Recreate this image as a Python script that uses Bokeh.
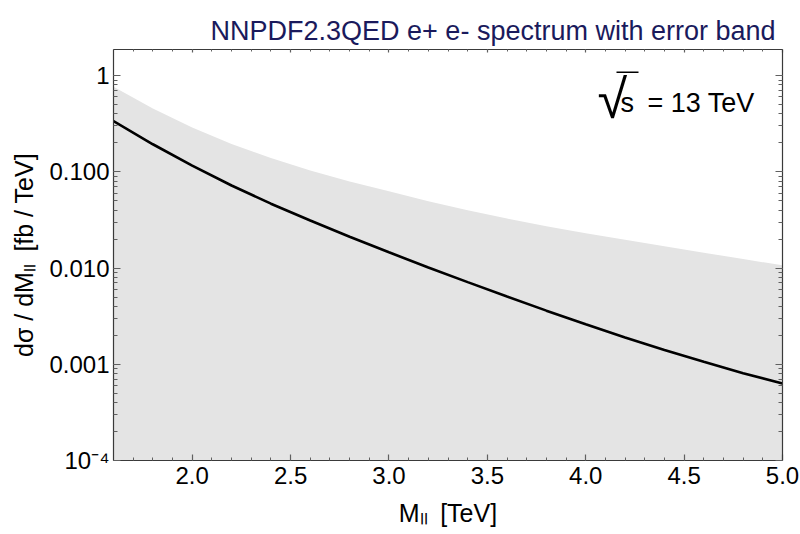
from bokeh.plotting import figure
from bokeh.models import (LinearAxis, LogAxis, Range1d, Label, BoxAnnotation, Title,
                          CustomJSTickFormatter, LogTicker, SingleIntervalTicker)
from bokeh.embed import file_html
from bokeh.resources import INLINE

# ---- data ----
mass = [1.6, 1.8, 2.0, 2.2, 2.4, 2.6, 2.8, 3.0, 3.2, 3.4, 3.6, 3.8, 4.0, 4.2, 4.4, 4.6, 4.8, 5.0]
central = [0.337, 0.1936, 0.1159, 0.0721, 0.0467, 0.0312, 0.0212, 0.01459, 0.01016, 0.00714,
           0.00506, 0.00361, 0.00261, 0.00190, 0.00141, 0.00106, 0.000809, 0.000630]
band_upper = [0.766, 0.456, 0.290, 0.1954, 0.139, 0.1035, 0.0794, 0.0627, 0.0495, 0.0399,
              0.0327, 0.0272, 0.0230, 0.0197, 0.0169, 0.01445, 0.0124, 0.01067]
band_lower = [1e-6] * len(mass)   # band extends below the lower edge of the plot

title_text = "NNPDF2.3QED e+ e- spectrum with error band"
x_label = "M\u2097\u2097\u2002[TeV]"
y_label = "d\u03c3 / dM\u2097\u2097\u2002[fb / TeV]"
x_range = (1.6, 5.0)
y_range = (1e-4, 1.87)

FONT = "Liberation Sans"

p = figure(width=800, height=534, output_backend="svg", toolbar_location=None,
           x_range=Range1d(*x_range), y_range=Range1d(*y_range), y_axis_type="log",
           min_border_left=113, min_border_right=18, min_border_top=49, min_border_bottom=74,
           x_axis_location=None, y_axis_location=None, title=None)
p.grid.visible = False
p.outline_line_color = None
p.background_fill_color = "white"
p.border_fill_color = "white"

p.varea(x=mass, y1=band_lower, y2=band_upper, fill_color="#e4e4e4", fill_alpha=1.0)
p.line(x=mass, y=central, line_color="black", line_width=2.6)

AX = "#3a3a3a"
TK = "#606060"

def style(ax, maj, mnr, labels):
    ax.axis_line_color = AX
    ax.axis_line_width = 1.2
    ax.major_tick_in = maj
    ax.major_tick_out = 0
    ax.minor_tick_in = mnr
    ax.minor_tick_out = 0
    ax.major_tick_line_color = TK
    ax.minor_tick_line_color = TK
    ax.major_tick_line_width = 1.2
    ax.minor_tick_line_width = 1.0
    ax.major_label_text_font = FONT
    ax.major_label_text_font_size = "24px"
    ax.major_label_text_color = "black"
    ax.axis_label_text_font = FONT
    ax.axis_label_text_font_size = "25px"
    ax.axis_label_text_font_style = "normal"
    ax.axis_label_text_color = "black"
    if not labels:
        ax.major_label_text_font_size = "0px"
        ax.major_label_standoff = 0

bottom = LinearAxis(ticker=SingleIntervalTicker(interval=0.5, num_minor_ticks=5))
style(bottom, 6, 3, True)
bottom.major_label_standoff = 6
bottom.formatter = CustomJSTickFormatter(code="return tick.toFixed(1);")
bottom.axis_label = x_label
bottom.axis_label_standoff = 12

top = LinearAxis(ticker=SingleIntervalTicker(interval=0.5, num_minor_ticks=5))
style(top, 3, 2, False)
top.formatter = CustomJSTickFormatter(code="return '';")

left = LogAxis(ticker=LogTicker(num_minor_ticks=10, desired_num_ticks=6))
style(left, 7, 4, True)
left.major_label_standoff = 4
left.formatter = CustomJSTickFormatter(code="""
if (tick > 0.5) return '1';
if (tick < 0.0005) return '10\u207b\u2074';
return tick.toFixed(3);
""")
left.axis_label = y_label
left.axis_label_standoff = 8

right = LogAxis(ticker=LogTicker(num_minor_ticks=10, desired_num_ticks=6))
style(right, 7, 4, False)
right.formatter = CustomJSTickFormatter(code="return '';")

p.add_layout(bottom, "below")
p.add_layout(top, "above")
p.add_layout(left, "left")
p.add_layout(right, "right")

t = Title(text=title_text, align="right", offset=7, text_font=FONT,
          text_font_size="27px", text_font_style="normal", text_color="#1a1a5c",
          standoff=7)
p.add_layout(t, "above")

def lab(text, x, y, size, font=FONT):
    p.add_layout(Label(x=x, y=y, x_units="screen", y_units="screen", text=text,
                       text_font=font, text_font_size=size, text_font_style="normal",
                       text_align="left", text_baseline="alphabetic", text_color="black"))

# sqrt(s) annotation (frame-relative screen coordinates)
lab("\u221a", 484, 362, "54px")
lab("s", 507, 358, "27px")
lab("= 13 TeV", 534, 358, "27px")
p.add_layout(BoxAnnotation(left=503, right=525, top=389, bottom=387.5,
                           left_units="screen", right_units="screen",
                           top_units="screen", bottom_units="screen",
                           fill_color="black", fill_alpha=1.0, line_color=None))

open("out.html", "w").write(file_html(p, INLINE))
